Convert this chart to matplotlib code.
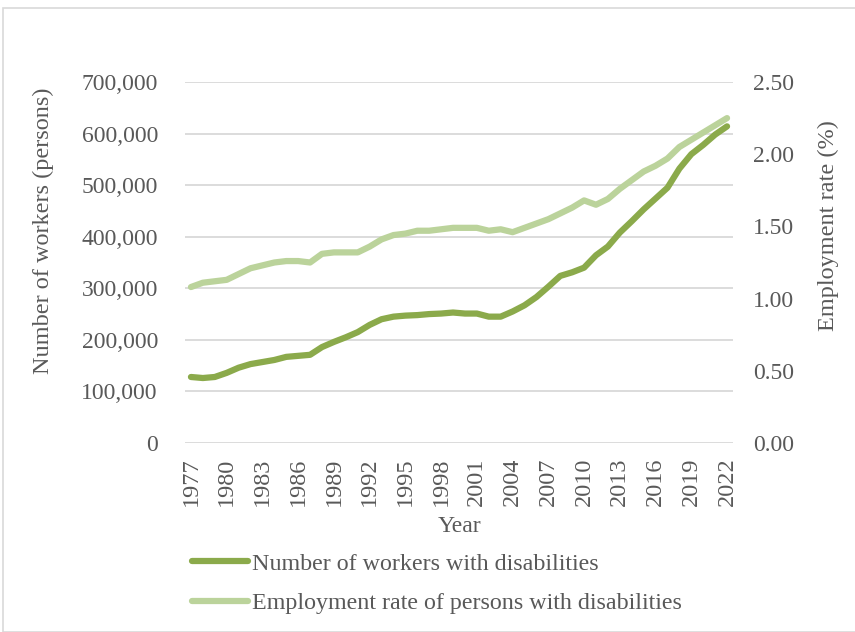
import matplotlib.pyplot as plt
from matplotlib.patches import Rectangle

# Employed persons with disabilities and their employment rate, 1977-2022
years = list(range(1977, 2023))
workers = [128000, 126000, 128000, 136000, 146000, 153000, 157000, 161000, 167000, 169000,
           171000, 186000, 196000, 205000, 215000, 229000, 240000, 245000, 247000, 248000,
           250000, 251000, 253000, 251000, 251000, 245000, 245000, 255000, 267000, 283000,
           303000, 324000, 331000, 340000, 364000, 381000, 408000, 430000, 453000, 474000,
           495000, 532000, 560000, 578000, 598000, 614000]
rate = [1.08, 1.11, 1.12, 1.13, 1.17, 1.21, 1.23, 1.25, 1.26, 1.26,
        1.25, 1.31, 1.32, 1.32, 1.32, 1.36, 1.41, 1.44, 1.45, 1.47,
        1.47, 1.48, 1.49, 1.49, 1.49, 1.47, 1.48, 1.46, 1.49, 1.52,
        1.55, 1.59, 1.63, 1.68, 1.65, 1.69, 1.76, 1.82, 1.88, 1.92,
        1.97, 2.05, 2.10, 2.15, 2.20, 2.25]
left_ticks = [0, 100000, 200000, 300000, 400000, 500000, 600000, 700000]
right_ticks = [0.0, 0.5, 1.0, 1.5, 2.0, 2.5]
year_ticks = years[::3]

plt.rcParams['font.family'] = ['Liberation Serif', 'DejaVu Serif']
txt = '#595959'
fs = 17

W, H = 855, 632
fig = plt.figure(figsize=(W / 100, H / 100), dpi=100)
fig.patches.append(Rectangle((3 / W, 0), 1, 1 - 8 / H, transform=fig.transFigure,
                             fill=False, edgecolor='#D9D9D9', linewidth=1.2))

ax = fig.add_axes([185 / W, (H - 443) / H, (733 - 185) / W, (443 - 82) / H])
ax2 = ax.twinx()

l1, = ax.plot(years, workers, color='#8BAA4B', linewidth=4.5, solid_capstyle='round',
              label='Number of workers with disabilities', zorder=3)
l2, = ax2.plot(years, rate, color='#BBD39B', linewidth=4.5, solid_capstyle='round',
               label='Employment rate of persons with disabilities', zorder=2)

ax.set_xlim(1976.5, 2022.5)
ax.set_ylim(0, 700000)
ax2.set_ylim(0, 2.5)
ax.set_yticks(left_ticks)
ax.set_yticklabels([f'{v:,}' for v in left_ticks])
ax2.set_yticks(right_ticks)
ax2.set_yticklabels([f'{v:.2f}' for v in right_ticks])
ax.set_xticks(year_ticks)
ax.set_xticklabels([str(y) for y in year_ticks], rotation=90)

ax.grid(axis='y', color='#D9D9D9', linewidth=1.3)
ax.set_axisbelow(True)
for a in (ax, ax2):
    for s in a.spines.values():
        s.set_visible(False)
    a.tick_params(length=0, labelsize=fs, labelcolor=txt)
ax.tick_params(axis='y', pad=19.5)
ax2.tick_params(axis='y', pad=14.4)
ax.tick_params(axis='x', pad=10.5, labelsize=17.5)

ax.set_xlabel('Year', fontsize=fs, color=txt)
ax.xaxis.set_label_coords(0.5, (443 - 526) / 361)
ax.xaxis.label.set_va('center')

ax.set_ylabel('Number of workers (persons)', fontsize=17.5, color=txt)
ax.yaxis.set_label_coords((43 - 185) / 548, (443 - 231) / 361)
ax.yaxis.label.set_va('center')

ax2.set_ylabel('Employment rate (%)', fontsize=17.5, color=txt)
ax2.yaxis.set_label_coords((828 - 185) / 548, (443 - 226) / 361)
ax2.yaxis.label.set_va('center')

fig.legend(handles=[l1, l2], loc='upper left', bbox_to_anchor=(192 / W, 1 - 553 / H),
           frameon=False, fontsize=17.3, handlelength=2.35, handletextpad=0.13,
           labelspacing=0.72, borderpad=0, borderaxespad=0, labelcolor=txt)

fig.savefig('out.png', dpi=100)
